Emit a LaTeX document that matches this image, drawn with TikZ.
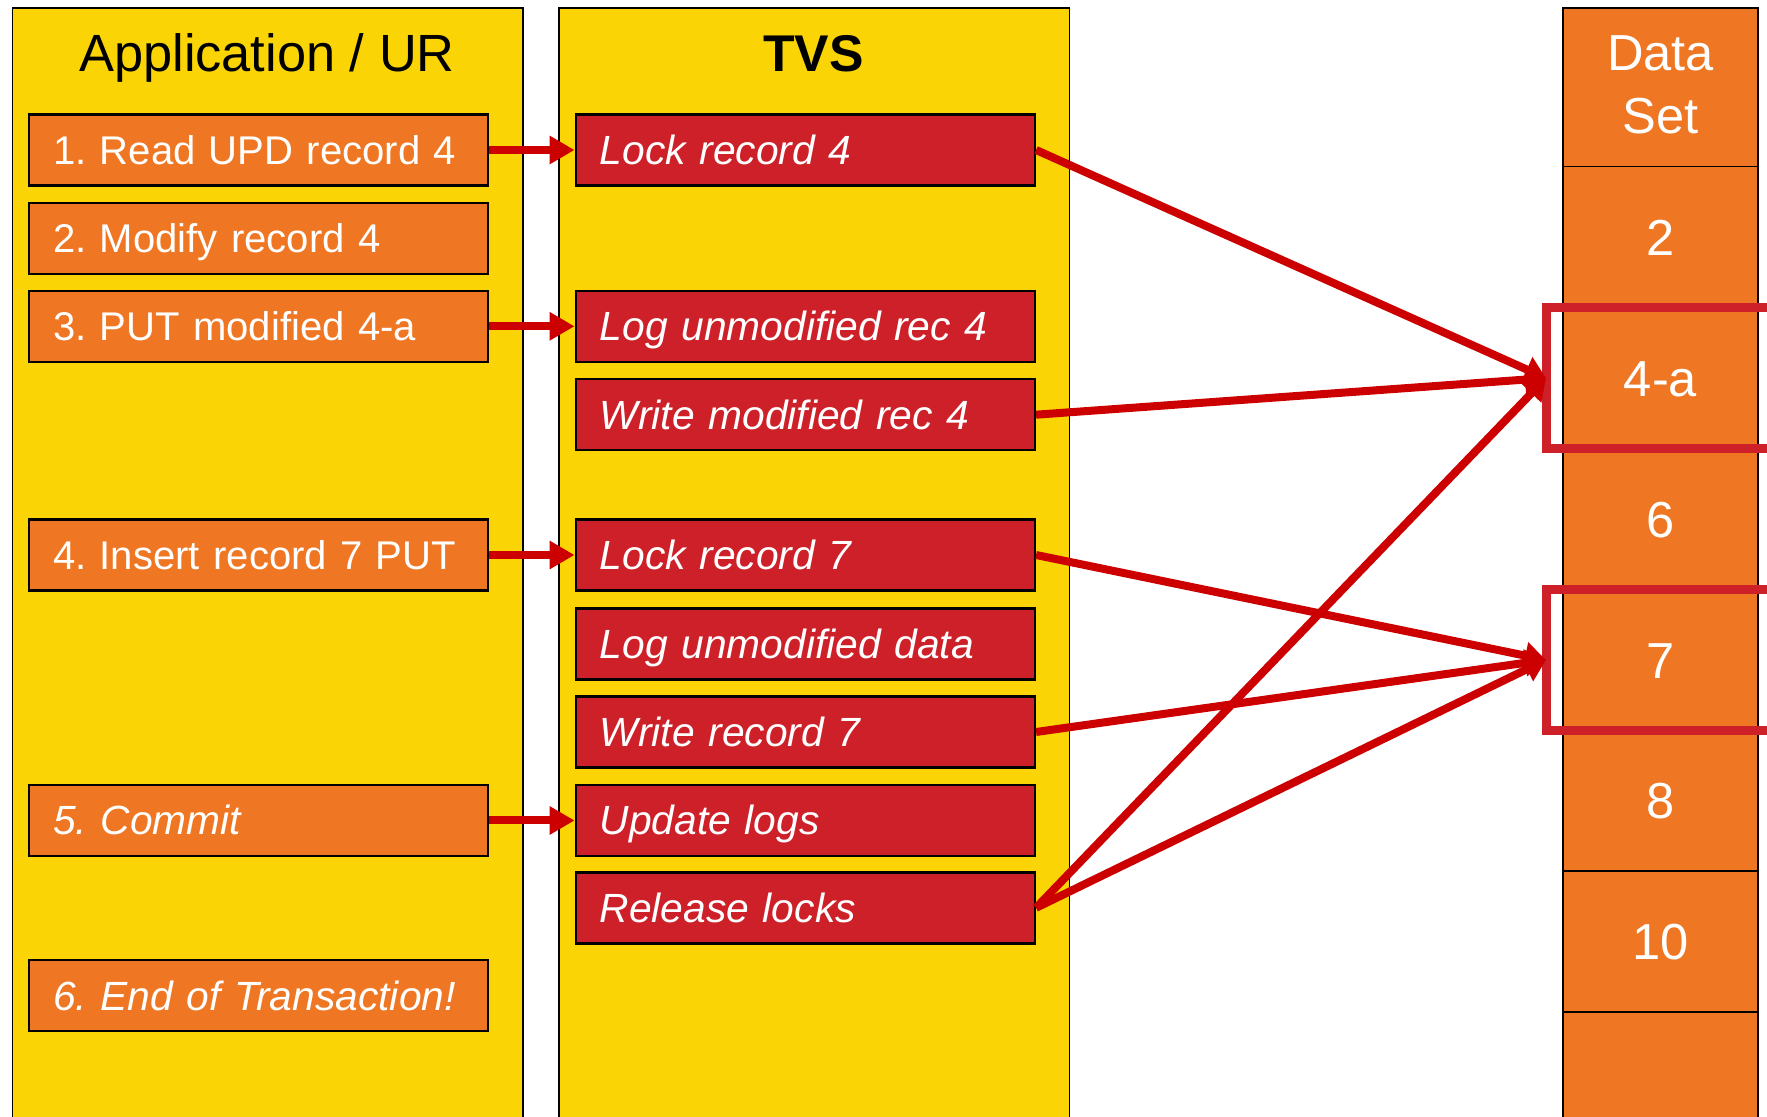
\documentclass[tikz,border=0pt]{standalone}
\usepackage{fontspec}
\setmainfont{Liberation Sans}
\usetikzlibrary{arrows.meta}
\definecolor{panelyellow}{RGB}{250,212,4}
\definecolor{steporange}{RGB}{239,118,34}
\definecolor{tvsred}{RGB}{205,32,40}
\definecolor{arrred}{RGB}{204,0,0}
\frenchspacing

\begin{document}
\begin{tikzpicture}[
x = 0.1mm, y = -0.1mm,
panel/.style={draw = black, fill = panelyellow, line width = 0.15mm},
headtext/.style={font = \fontsize{14.9}{18}\selectfont, text height = 3.76mm, text depth = 0mm},
apprect/.style={rectangle, align = left, 
draw = black, 
fill = steporange, text = white, line width = 0.25mm, minimum height = 7.1mm, text width = 41.1mm, inner xsep = 2.4mm, inner ysep = 0, text height = 2.9mm, text depth = 0mm, font = \fontsize{11.4}{13}\selectfont}, 
tvsrect/.style={apprect, fill = tvsred, font = \fontsize{11.6}{13}\selectfont\itshape}, 
cellrect/.style={rectangle, align = center, 
draw = black, 
fill = steporange, text = white, line width = 0.15mm, minimum width = 19.5mm, minimum height = 14.09mm, text height = 3.63mm, text depth = 0mm, font = \fontsize{14.4}{18}\selectfont},
hlrect/.style={rectangle, draw = tvsred, line width = 0.9mm, minimum width = 25.4mm, minimum height = 14.08mm, outer sep = 0},
callarr/.style={-{Triangle[length = 2.5mm, width = 2.7mm]}, line width = 0.8mm, draw = arrred}, 
dataarr/.style={-{Triangle[length = 2.1mm, width = 2.6mm]}, line width = 0.8mm, draw = arrred}]

\clip (0,0) rectangle (1767,1117);

% columns
\draw[panel] (12.4,7.9) rectangle (523,1130);
\draw[panel] (559,7.9) rectangle (1069.5,1130);
\node[headtext] (app) at (267,53) {Application / UR};
\node[headtext, font = \fontsize{14.7}{18}\selectfont\bfseries] (tvs) at (813.6,53) {TVS};

% application steps
\node[apprect] (S1) at (258.6,150) {1. Read UPD record 4};
\node[apprect] (S2) at (258.6,238.4) {2. Modify record 4};
\node[apprect] (S3) at (258.6,326.3) {3. PUT modified 4-a};
\node[apprect] (S4) at (258.6,555) {4. Insert record 7 PUT};
\node[apprect, font = \fontsize{11.6}{13}\selectfont\itshape] (S5) at (258.6,820.5) {5. Commit};
\node[apprect, font = \fontsize{11.6}{13}\selectfont\itshape] (S6) at (258.6,995.6) {6. End of Transaction!};

% TVS actions
\node[tvsrect] (L4) at (805.3,150) {Lock record 4};
\node[tvsrect] (LU4) at (805.3,326.3) {Log unmodified rec 4};
\node[tvsrect] (W4) at (805.3,414.7) {Write modified rec 4};
\node[tvsrect] (L7) at (805.3,555) {Lock record 7};
\node[tvsrect] (LUD) at (805.3,644) {Log unmodified data};
\node[tvsrect] (W7) at (805.3,732) {Write record 7};
\node[tvsrect] (UL) at (805.3,820.5) {Update logs};
\node[tvsrect] (RL) at (805.3,907.8) {Release locks};

% data set
\node[cellrect, minimum height = 15.89mm, text height = {}, text depth = 0.56mm] (DS) at (1660.5,87.3) {Data\\Set};
\node[cellrect] (D2) at (1660.5,237.2) {2};
\node[cellrect] (D4) at (1660.5,378.1) {4-a};
\node[cellrect] (D6) at (1660.5,519) {6};
\node[cellrect] (D7) at (1660.5,659.9) {7};
\node[cellrect] (D8) at (1660.5,800.7) {8};
\node[cellrect] (D10) at (1660.5,941.6) {10};
\node[cellrect] (DE) at (1660.5,1082.5) {};

\node[hlrect] (H4) at (1673,378.1) {};
\node[hlrect] (H7) at (1673,659.9) {};

% calls
\draw[callarr] (S1.east) -- (L4.west);
\draw[callarr] (S3.east) -- (LU4.west);
\draw[callarr] (S4.east) -- (L7.west);
\draw[callarr] (S5.east) -- (UL.west);

% writes to the data set
\draw[dataarr] (L4.east) -- (H4.west);
\draw[dataarr] (W4.east) -- (H4.west);
\draw[dataarr] (RL.east) -- (H4.west);
\draw[dataarr] (L7.east) -- (H7.west);
\draw[dataarr] (W7.east) -- (H7.west);
\draw[dataarr] (RL.east) -- (H7.west);
\end{tikzpicture}
\end{document}
